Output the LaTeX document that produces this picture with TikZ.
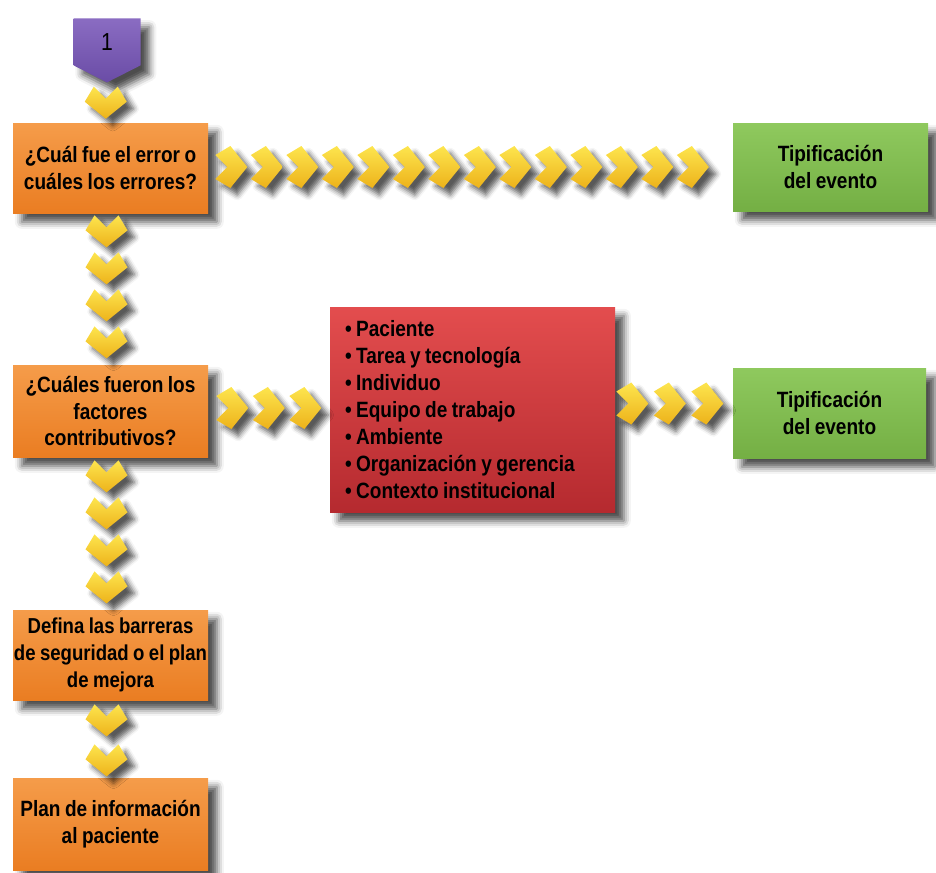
\documentclass[tikz,border=0pt]{standalone}
\usepackage{fontspec}
\setmainfont{Liberation Sans}[FakeStretch=0.86,WordSpace=0.85]
\usetikzlibrary{shapes.symbols,shadows.blur,calc}
\definecolor{naranja}{HTML}{EA7D22}
\definecolor{naranjaclaro}{HTML}{F59C4A}
\definecolor{verde}{HTML}{74AF44}
\definecolor{verdeclaro}{HTML}{8FC95E}
\definecolor{rojo}{HTML}{B52A2F}
\definecolor{rojoclaro}{HTML}{E34D4E}
\definecolor{morado}{HTML}{6A4CA6}
\definecolor{moradoclaro}{HTML}{8A6CC2}
\definecolor{amarillo}{HTML}{EDB21A}
\definecolor{amarilloclaro}{HTML}{FDE54E}

\begin{document}
\begin{tikzpicture}[
    sombra/.style={blur shadow={shadow xshift=5pt,shadow yshift=-5pt,shadow blur radius=4pt,shadow opacity=70}},
    caja/.style={rectangle,sombra,minimum width=3.9cm,minimum height=1.8cm,inner sep=0pt,align=center,
        font=\fontsize{12.6}{15.3}\selectfont\bfseries},
    pregunta/.style={caja,top color=naranjaclaro,bottom color=naranja},
    tipo/.style={caja,top color=verdeclaro,bottom color=verde},
    causas/.style={caja,top color=rojoclaro,bottom color=rojo,minimum width=5.7cm,minimum height=4.1cm,
        text width=5.1cm,inner xsep=0.3cm,align=flush left},
    chevron/.style={blur shadow={shadow xshift=4pt,shadow yshift=-4pt,shadow blur radius=3pt,shadow opacity=65},
        top color=amarilloclaro,bottom color=amarillo},
    pics/flecha/.style={code={\path[chevron] (-0.32,0.24) -- (-0.08,0) -- (-0.32,-0.24) -- (-0.02,-0.42) -- (0.32,0) -- (-0.02,0.42) -- cycle;}},
    pics/baja/.style={code={\path[chevron] (-0.24,0.32) -- (0,0.08) -- (0.24,0.32) -- (0.42,0.02) -- (0,-0.32) -- (-0.42,0.02) -- cycle;}}
]
\useasboundingbox (0,0) rectangle (18.72,-17.46);

\node[signal,signal to=south,signal pointer angle=126,sombra,top color=moradoclaro,bottom color=morado,
    minimum width=1.34cm,minimum height=1cm,inner sep=0pt,anchor=north,
    font=\fontsize{14}{16}\selectfont] (one) at (2.14,-0.36) {1};

\node[pregunta] (q1) at (2.21,-3.36) {¿Cuál fue el error o\\cuáles los errores?};
\node[tipo,minimum height=1.76cm] (t1) at (16.61,-3.34) {Tipificación\\del evento};
\node[pregunta,minimum height=1.84cm] (q2) at (2.21,-8.22) {¿Cuáles fueron los\\factores\\contributivos?};
\node[causas] (f) at (9.45,-8.19) {• Paciente\\• Tarea y tecnología\\• Individuo\\• Equipo de trabajo\\• Ambiente\\• Organización y gerencia\\• Contexto institucional};
\node[tipo,minimum width=3.86cm] (t2) at (16.59,-8.26) {Tipificación\\del evento};
\node[pregunta,font=\fontsize{12.3}{15.3}\selectfont\bfseries] (q3) at (2.21,-13.1) {Defina las barreras\\de seguridad o el plan\\de mejora};
\node[pregunta,minimum height=1.84cm] (q4) at (2.21,-16.48) {Plan de información\\al paciente};

\pic at ($(one.south)!0.5!(q1.north)+(-0.06,0)$) {baja};
\foreach \i in {0,...,13} { \pic at ($(q1.east)+(0.46+0.71*\i,0.02)$) {flecha}; }
\foreach \i in {0,...,3} { \pic at ($(q1.south)+(-0.08,-0.36-0.74*\i)$) {baja}; }
\foreach \i in {0,...,2} { \pic at ($(q2.east)+(0.48+0.73*\i,0.06)$) {flecha}; }
\foreach \i in {0,...,2} { \pic at ($(f.east)+(0.34+0.75*\i,0.12)$) {flecha}; }
\foreach \i in {0,...,3} { \pic at ($(q2.south)+(-0.08,-0.38-0.74*\i)$) {baja}; }
\foreach \i in {0,...,1} { \pic at ($(q3.south)+(-0.08,-0.4-0.8*\i)$) {baja}; }
\end{tikzpicture}
\end{document}
